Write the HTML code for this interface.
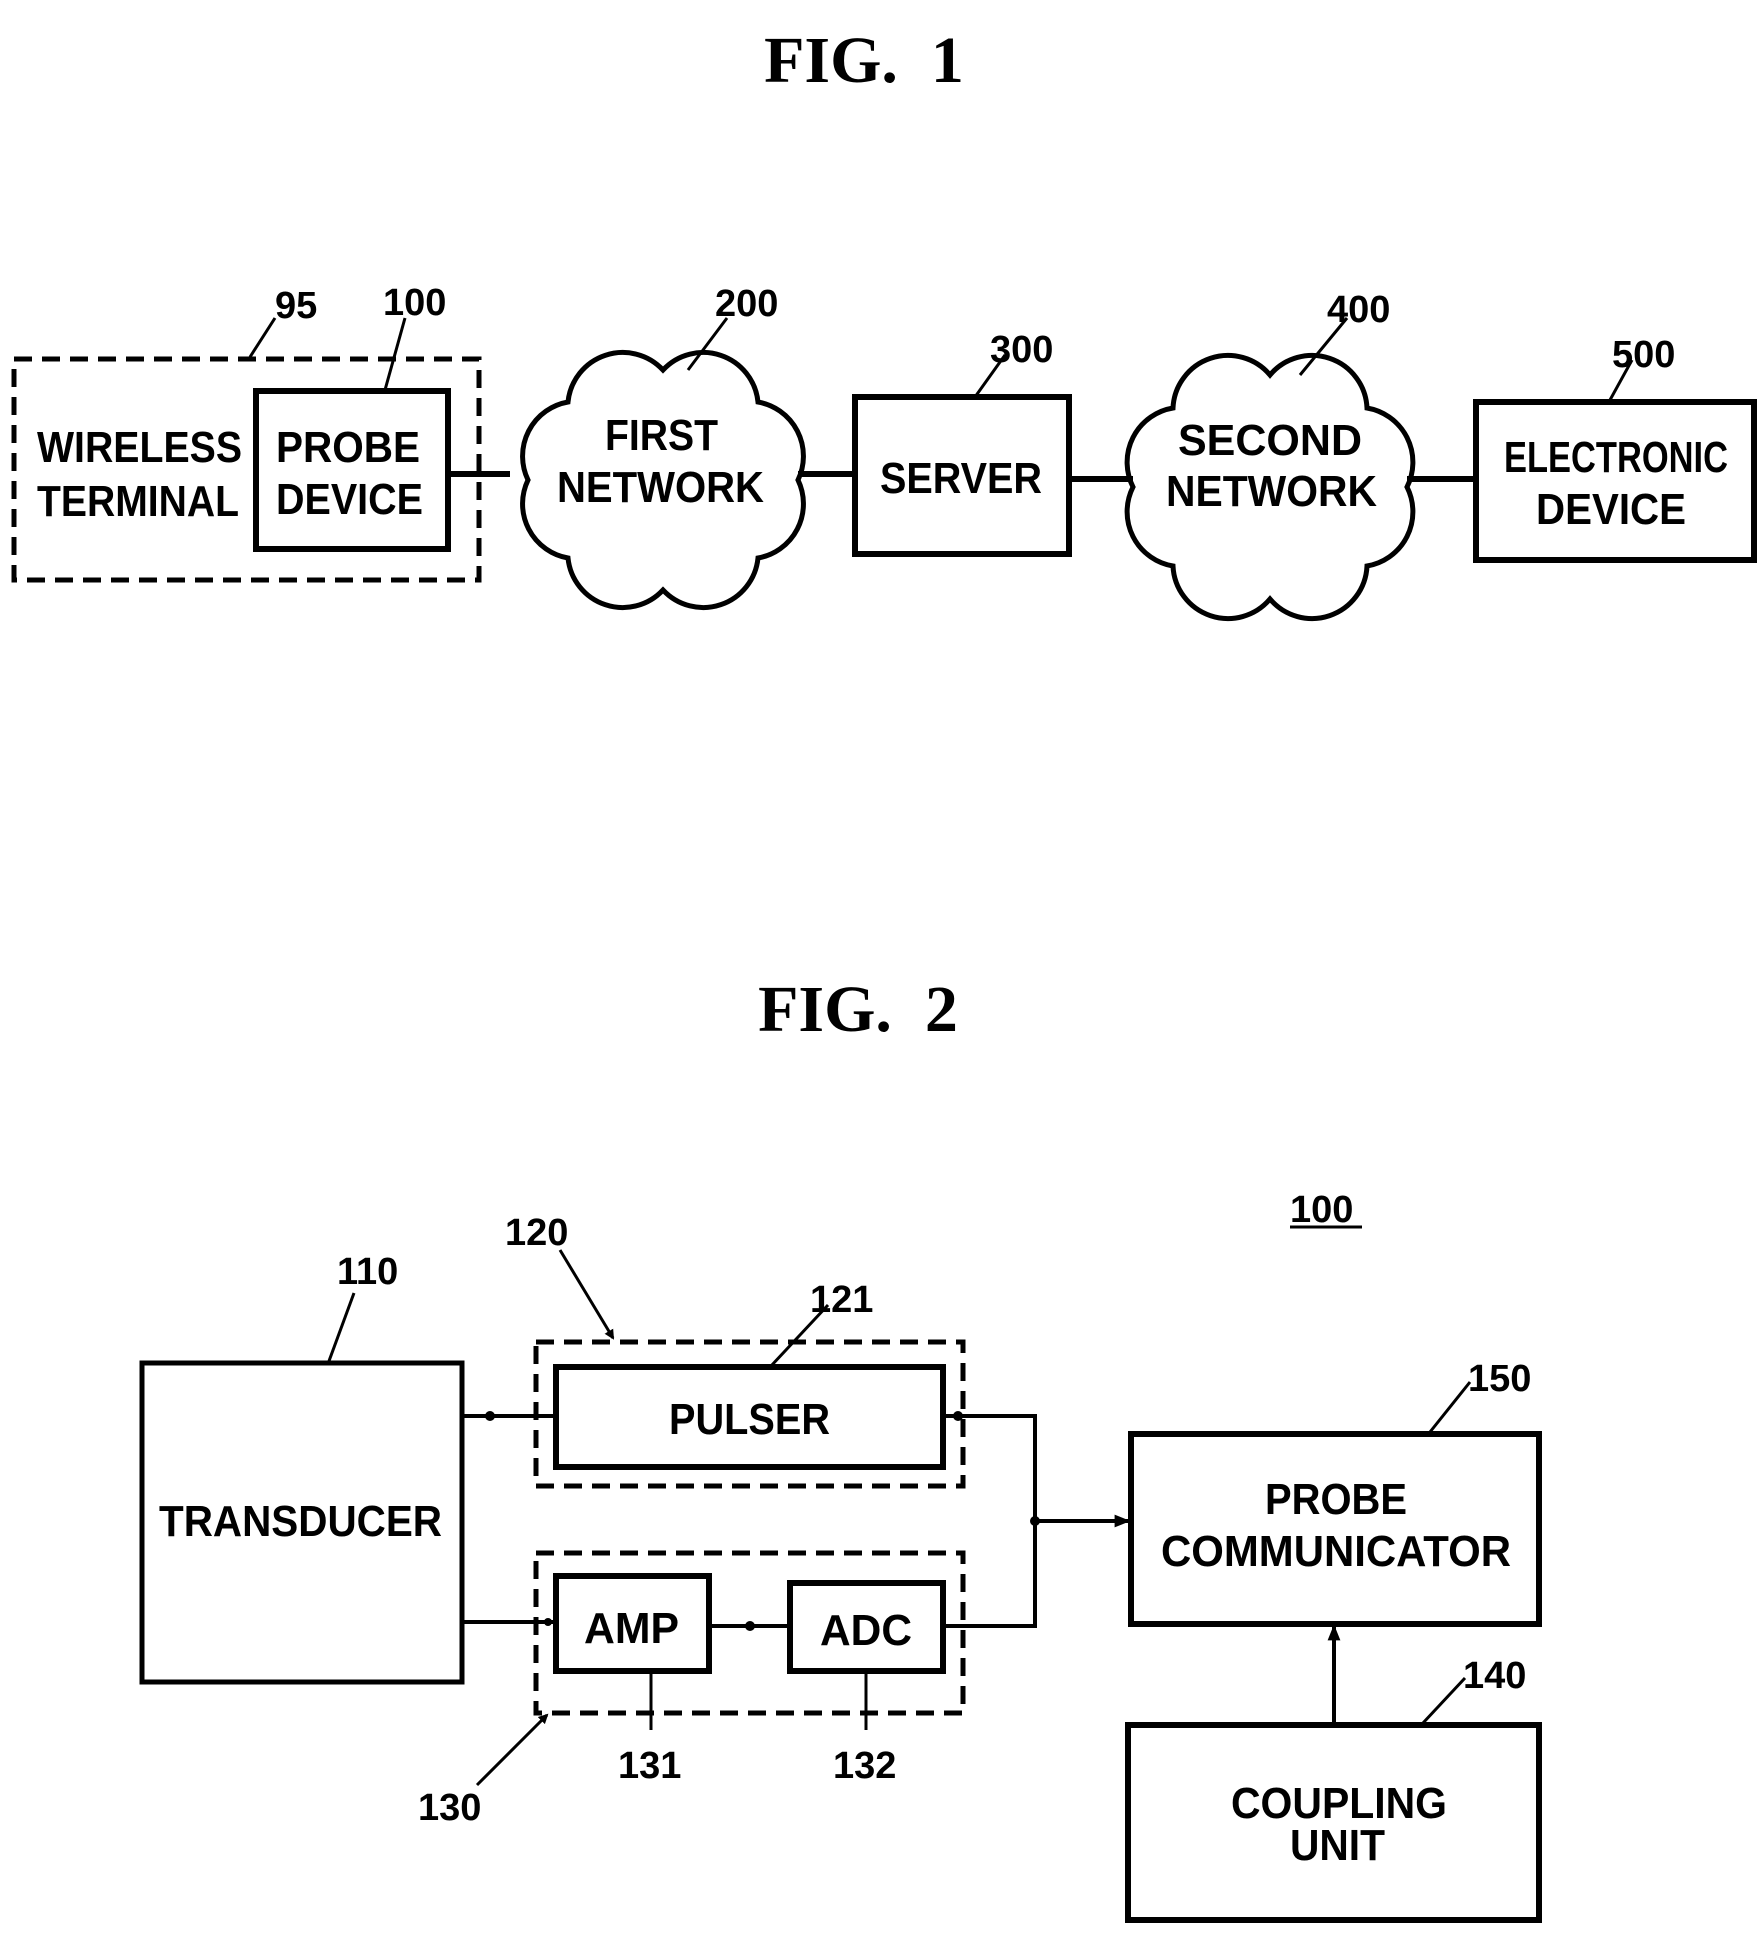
<!DOCTYPE html>
<html><head><meta charset="utf-8"><style>
html,body{margin:0;padding:0;background:#fff;}
svg{display:block;}
.t{font-family:"Liberation Sans",sans-serif;font-weight:bold;fill:#000;}
.n{font-family:"Liberation Sans",sans-serif;font-weight:bold;fill:#000;font-size:38px;}
.h{font-family:"Liberation Serif",serif;font-weight:bold;fill:#000;font-size:66px;white-space:pre;}
</style></head><body>
<svg width="1760" height="1949" viewBox="0 0 1760 1949" xmlns="http://www.w3.org/2000/svg">
<defs><marker id="ar" markerWidth="10" markerHeight="10" refX="8" refY="5" orient="auto" markerUnits="userSpaceOnUse"><path d="M0,0 L10,5 L0,10 z" fill="#000"/></marker>
<marker id="ab" viewBox="0 0 10 10" markerWidth="16" markerHeight="16" refX="9" refY="5" orient="auto" markerUnits="userSpaceOnUse"><path d="M0,1 L10,5 L0,9 z" fill="#000"/></marker></defs>
<g stroke="#000" fill="none">
<rect x="14" y="359" width="465" height="221" stroke-width="5" stroke-dasharray="18,10"/>
<rect x="256" y="391" width="192" height="158" stroke-width="6"/>
<path d="M798,480 A55,55 0 0 1 758,558 A55,55 0 0 1 663,590 A55,55 0 0 1 568,558 A55,55 0 0 1 528,480 A55,55 0 0 1 568,402 A55,55 0 0 1 663,370 A55,55 0 0 1 758,402 A55,55 0 0 1 798,480 Z" stroke-width="5"/>
<rect x="855" y="397" width="214" height="157" stroke-width="6"/>
<path d="M1407,487 A55,55 0 0 1 1367,566 A55,55 0 0 1 1270,599 A55,55 0 0 1 1173,566 A55,55 0 0 1 1133,487 A55,55 0 0 1 1173,408 A55,55 0 0 1 1270,375 A55,55 0 0 1 1367,408 A55,55 0 0 1 1407,487 Z" stroke-width="5"/>
<rect x="1476" y="402" width="278" height="158" stroke-width="6"/>
<g stroke-width="6">
<line x1="448" y1="474" x2="510" y2="474"/>
<line x1="798" y1="474" x2="855" y2="474"/>
<line x1="1069" y1="479" x2="1133" y2="479"/>
<line x1="1407" y1="479" x2="1476" y2="479"/>
</g>
<g stroke-width="3">
<line x1="275" y1="318" x2="250" y2="357"/>
<line x1="405" y1="318" x2="385" y2="390"/>
<line x1="727" y1="318" x2="688" y2="370"/>
<line x1="1005" y1="355" x2="975" y2="397"/>
<line x1="1347" y1="318" x2="1300" y2="375"/>
<line x1="1632" y1="360" x2="1610" y2="400"/>
</g>
<rect x="142" y="1363" width="320" height="319" stroke-width="5"/>
<rect x="536" y="1342" width="427" height="144" stroke-width="5" stroke-dasharray="18,10"/>
<rect x="556" y="1367" width="387" height="100" stroke-width="6"/>
<rect x="536" y="1553" width="427" height="160" stroke-width="5" stroke-dasharray="18,10"/>
<rect x="556" y="1576" width="153" height="95" stroke-width="6"/>
<rect x="790" y="1583" width="153" height="88" stroke-width="6"/>
<rect x="1131" y="1434" width="408" height="190" stroke-width="6"/>
<rect x="1128" y="1725" width="411" height="195" stroke-width="6"/>
<g stroke-width="4">
<line x1="462" y1="1416" x2="556" y2="1416"/>
<polyline points="943,1416 1035,1416 1035,1626 943,1626"/>
<line x1="1035" y1="1521" x2="1129" y2="1521" marker-end="url(#ab)"/>
<line x1="462" y1="1622" x2="556" y2="1622"/>
<line x1="709" y1="1626" x2="790" y2="1626"/>
<line x1="1334" y1="1725" x2="1334" y2="1626" marker-end="url(#ab)"/>
</g>
<g stroke-width="3">
<line x1="354" y1="1293" x2="329" y2="1361"/>
<line x1="560" y1="1250" x2="613" y2="1338" marker-end="url(#ar)"/>
<line x1="828" y1="1305" x2="771" y2="1366"/>
<line x1="1470" y1="1382" x2="1430" y2="1432"/>
<line x1="1465" y1="1678" x2="1423" y2="1723"/>
<line x1="651" y1="1671" x2="651" y2="1730"/>
<line x1="866" y1="1671" x2="866" y2="1730"/>
<line x1="477" y1="1785" x2="547" y2="1715" marker-end="url(#ar)"/>
</g>
<line x1="1290" y1="1227" x2="1362" y2="1227" stroke-width="3"/>
</g>
<g fill="#000">
<circle cx="490" cy="1416" r="5"/><circle cx="958" cy="1416" r="5"/>
<circle cx="1035" cy="1521" r="5"/><circle cx="750" cy="1626" r="5"/>
<circle cx="548" cy="1622" r="4"/>
</g>
<text class="h" x="864" y="82" text-anchor="middle">FIG.&#160;&#160;1</text>
<text class="h" x="858" y="1031" text-anchor="middle">FIG.&#160;&#160;2</text>
<g class="t" font-size="44">
<text x="37" y="462" textLength="205" lengthAdjust="spacingAndGlyphs">WIRELESS</text>
<text x="37" y="516" textLength="202" lengthAdjust="spacingAndGlyphs">TERMINAL</text>
<text x="276" y="462" textLength="144" lengthAdjust="spacingAndGlyphs">PROBE</text>
<text x="276" y="514" textLength="147" lengthAdjust="spacingAndGlyphs">DEVICE</text>
<text x="605" y="450" textLength="113" lengthAdjust="spacingAndGlyphs">FIRST</text>
<text x="557" y="502" textLength="207" lengthAdjust="spacingAndGlyphs">NETWORK</text>
<text x="880" y="493" textLength="162" lengthAdjust="spacingAndGlyphs">SERVER</text>
<text x="1178" y="455" textLength="184" lengthAdjust="spacingAndGlyphs">SECOND</text>
<text x="1166" y="506" textLength="211" lengthAdjust="spacingAndGlyphs">NETWORK</text>
<text x="1504" y="472" textLength="224" lengthAdjust="spacingAndGlyphs">ELECTRONIC</text>
<text x="1536" y="524" textLength="150" lengthAdjust="spacingAndGlyphs">DEVICE</text>
<text x="159" y="1536" textLength="283" lengthAdjust="spacingAndGlyphs">TRANSDUCER</text>
<text x="669" y="1434" textLength="161" lengthAdjust="spacingAndGlyphs">PULSER</text>
<text x="584" y="1643" textLength="95" lengthAdjust="spacingAndGlyphs">AMP</text>
<text x="820" y="1645" textLength="92" lengthAdjust="spacingAndGlyphs">ADC</text>
<text x="1265" y="1514" textLength="142" lengthAdjust="spacingAndGlyphs">PROBE</text>
<text x="1161" y="1566" textLength="350" lengthAdjust="spacingAndGlyphs">COMMUNICATOR</text>
<text x="1231" y="1818" textLength="216" lengthAdjust="spacingAndGlyphs">COUPLING</text>
<text x="1290" y="1860" textLength="95" lengthAdjust="spacingAndGlyphs">UNIT</text>
</g>
<g class="n">
<text x="275" y="318">95</text>
<text x="383" y="315">100</text>
<text x="715" y="316">200</text>
<text x="990" y="362">300</text>
<text x="1327" y="322">400</text>
<text x="1612" y="367">500</text>
<text x="1290" y="1222">100</text>
<text x="337" y="1284">110</text>
<text x="505" y="1245">120</text>
<text x="810" y="1312">121</text>
<text x="1468" y="1391">150</text>
<text x="1463" y="1688">140</text>
<text x="618" y="1778">131</text>
<text x="833" y="1778">132</text>
<text x="418" y="1820">130</text>
</g>
</svg>
</body></html>
